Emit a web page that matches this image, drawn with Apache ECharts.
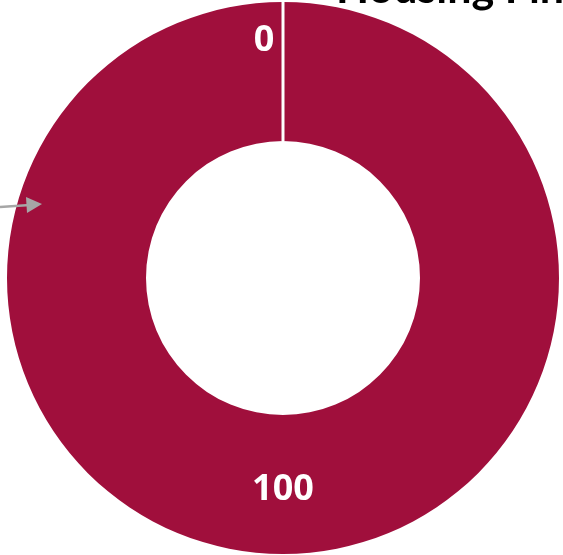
<!DOCTYPE html>
<html>
<head>
<meta charset="utf-8">
<script src="https://cdn.jsdelivr.net/npm/echarts@6/dist/echarts.min.js"></script>
<style>
html,body{margin:0;padding:0;background:#fff;}
#c1{width:563px;height:555px;}
</style>
</head>
<body>
<div id="c1"></div>
<script type="text/javascript">
// slice names and values
let names = ['Part A', 'Part B']
let values = [0, 100]
let colors = ['#A00F3C', '#A00F3C']

let cx = 283, cy = 278, r0 = 137, r1 = 276
let chart = echarts.init(document.getElementById('c1'))
let data = []
for(let i=0; i<values.length; ++i){
    data.push({
        name: names[i],
        value: values[i],
        itemStyle: {color: colors[i]},
        label: i === 0 ? {offset: [-19, -28]} : {offset: [0, 2]}
    })
}
let option = {
    backgroundColor: '#fff',
    animation: false,
    graphic: [
        {
            type: 'text',
            left: 336,
            top: -32,
            style: {
                text: 'Housing Finance',
                fill: '#000',
                font: 'bold 43px Lato, "Open Sans", sans-serif'
            },
            z: 10
        },
        {
            // seam between the zero slice and the full slice
            type: 'line',
            shape: {x1: cx, y1: cy - r0, x2: cx, y2: cy - r1},
            style: {stroke: '#fff', lineWidth: 3},
            z: 10
        },
        {
            type: 'line',
            shape: {x1: 0, y1: 207, x2: 30, y2: 205},
            style: {stroke: '#A6A6A6', lineWidth: 2.5},
            z: 10
        },
        {
            type: 'polygon',
            shape: {points: [[26, 197], [42, 204], [27, 213]]},
            style: {fill: '#A6A6A6'},
            z: 10
        }
    ],
    series: [{
        name: 'pie',
        type: 'pie',
        radius: [r0, r1],
        center: [cx, cy],
        startAngle: 90,
        clockwise: true,
        silent: true,
        labelLine: {show: false},
        label: {
            show: true,
            position: 'inside',
            color: '#fff',
            fontSize: 36,
            fontWeight: 'bold',
            fontFamily: 'Open Sans',
            formatter: function(params){
                return params.value
            }
        },
        data: data
    }]
}
chart.setOption(option)
</script>
</body>
</html>
